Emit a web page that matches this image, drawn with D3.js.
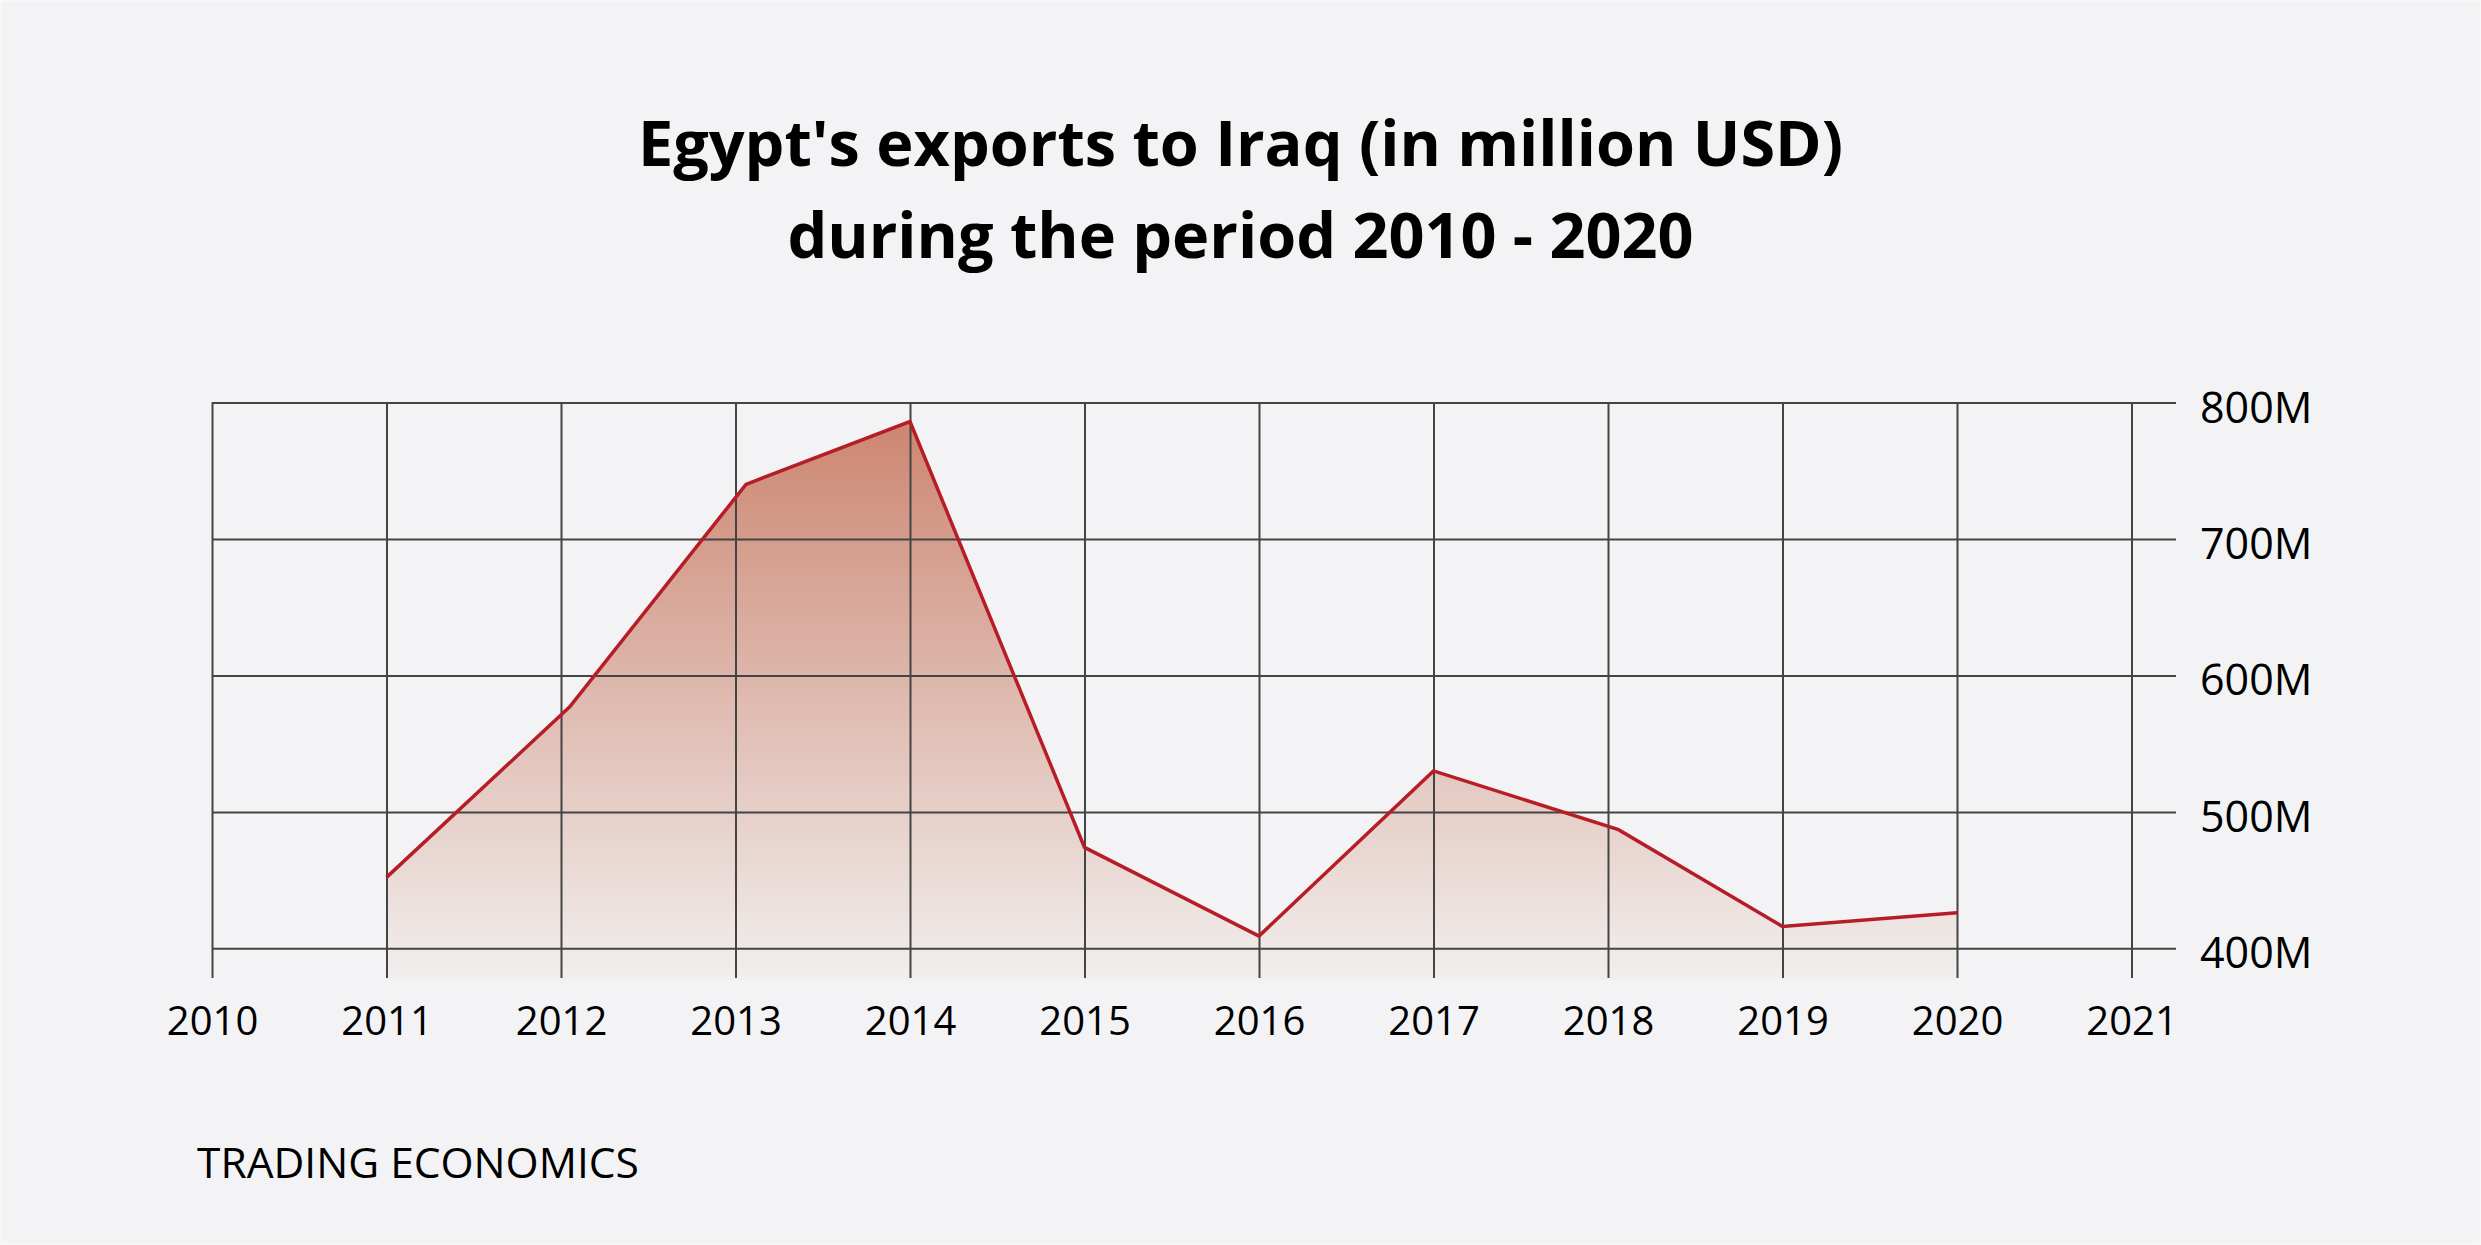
<!DOCTYPE html>
<html>
<head>
<meta charset="utf-8">
<script src="https://cdn.jsdelivr.net/npm/d3@7"></script>
<style>
  html, body { margin: 0; padding: 0; background: #f3f3f5; }
  svg { display: block; }
  text { font-family: "Open Sans", "Noto Sans", sans-serif; fill: #000; }
</style>
</head>
<body>
<script>
// ---- data ----
const titleLines = ["Egypt's exports to Iraq (in million USD)", "during the period 2010 - 2020"];
const years = [2011, 2012.05, 2013.06, 2014, 2015, 2016, 2017, 2018.06, 2019, 2020];
const exportsMillion = [452, 577, 740, 786, 474, 409, 530, 487, 416, 426];
const xTicks = [2010, 2011, 2012, 2013, 2014, 2015, 2016, 2017, 2018, 2019, 2020, 2021];
const yTicks = [400, 500, 600, 700, 800];
const sourceLabel = "TRADING ECONOMICS";

const W = 2481, H = 1245;
const svg = d3.select("body").append("svg").attr("width", W).attr("height", H);

svg.append("rect").attr("x", 0.5).attr("y", 0.5).attr("width", W - 1).attr("height", H - 1)
  .attr("fill", "#f3f3f5").attr("stroke", "#f8f8f9").attr("stroke-width", 2);

const x = d3.scaleLinear().domain([2010, 2021]).range([212, 2131.5]);
const y = d3.scaleLinear().domain([376.8, 800]).range([980, 402.5]);
const gridRight = 2176, tickBottom = 978;

const data = years.map((yr, i) => ({ x: yr, v: exportsMillion[i] }));

// gradient
const defs = svg.append("defs");
const grad = defs.append("linearGradient").attr("id", "areaGrad")
  .attr("gradientUnits", "userSpaceOnUse")
  .attr("x1", 0).attr("x2", 0).attr("y1", y(786)).attr("y2", y(376.8));
grad.append("stop").attr("offset", "0%").attr("stop-color", "#cd8672");
grad.append("stop").attr("offset", "100%").attr("stop-color", "#f1efee");

// area
svg.append("path").datum(data)
  .attr("fill", "url(#areaGrad)")
  .attr("d", d3.area().x(d => x(d.x)).y0(y(376.8)).y1(d => y(d.v)));

// y axis grid (right)
const yAxis = svg.append("g").attr("transform", `translate(${gridRight},0)`)
  .call(d3.axisRight(y).tickValues(yTicks).tickSize(-(gridRight - 212)).tickPadding(24)
    .tickFormat(d => d + "M"));
yAxis.select(".domain").remove();
yAxis.selectAll(".tick line").attr("stroke", "#444").attr("stroke-width", 2);
yAxis.selectAll(".tick text").attr("dy", "19.5px").attr("font-size", 43).attr("fill", "#000")
  .style("font-family", '"Open Sans", sans-serif');

// x axis grid (vertical)
const xAxis = svg.append("g").attr("transform", `translate(0,${tickBottom})`)
  .call(d3.axisBottom(x).tickValues(xTicks).tickSize(-(tickBottom - y(800))).tickFormat(d3.format("d")));
xAxis.select(".domain").remove();
xAxis.selectAll(".tick line").attr("stroke", "#444").attr("stroke-width", 2);
xAxis.selectAll(".tick text").attr("y", 57).attr("dy", 0).attr("font-size", 40).attr("fill", "#000")
  .style("font-family", '"Open Sans", sans-serif');

// line
svg.append("path").datum(data)
  .attr("fill", "none").attr("stroke", "#b71d26").attr("stroke-width", 3.5)
  .attr("stroke-linejoin", "miter")
  .attr("d", d3.line().x(d => x(d.x)).y(d => y(d.v)));

// title
svg.selectAll(".title").data(titleLines).enter().append("text")
  .attr("class", "title")
  .attr("x", W / 2).attr("y", (d, i) => 166 + i * 92)
  .attr("text-anchor", "middle").attr("font-size", 63).attr("font-weight", 700)
  .text(d => d);

// source
svg.append("text").attr("x", 197).attr("y", 1178)
  .attr("font-size", 42.5).attr("font-weight", 500).text(sourceLabel);
</script>
</body>
</html>
